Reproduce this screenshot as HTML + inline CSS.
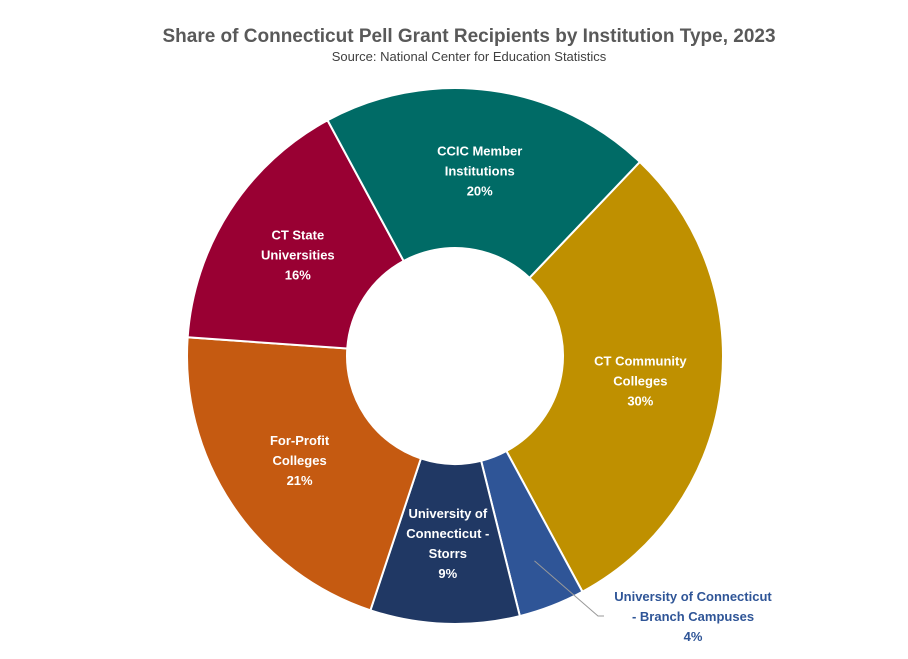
<!DOCTYPE html>
<html><head><meta charset="utf-8"><style>
body{margin:0;background:#fff;font-family:"Liberation Sans",Arial,sans-serif;}
svg{display:block}
</style></head><body>
<svg id="chart" width="908" height="659" viewBox="0 0 908 659">
<text x="469" y="42" text-anchor="middle" font-size="19" font-weight="bold" fill="#595959">Share of Connecticut Pell Grant Recipients by Institution Type, 2023</text>
<text x="469" y="61" text-anchor="middle" font-size="13" fill="#404040">Source: National Center for Education Statistics</text>
<g id="slices"></g>
<g id="labels"></g>
</svg>
<script>
const categories = [["CT Community","Colleges"],["University of Connecticut","- Branch Campuses"],["University of","Connecticut -","Storrs"],["For-Profit","Colleges"],["CT State","Universities"],["CCIC Member","Institutions"]];
const values = [30, 4, 9, 21, 16, 20];
const colors = ["#BF9000","#2F5597","#203864","#C55A11","#990033","#006B66"];
const names = ["ct-community-colleges","uconn-branch-campuses","uconn-storrs","for-profit-colleges","ct-state-universities","ccic-member-institutions"];
const cx=455, cy=356, R=268, r=108, startDeg=43.6;
const NS="http://www.w3.org/2000/svg";
const total=values.reduce((a,b)=>a+b,0);
function pt(deg,rad){const a=deg*Math.PI/180;return [cx+rad*Math.sin(a), cy-rad*Math.cos(a)];}
const gS=document.getElementById('slices'), gL=document.getElementById('labels');
let ang=startDeg;
values.forEach((v,i)=>{
  const sweep=v/total*360, a0=ang, a1=ang+sweep; ang=a1;
  const [x0,y0]=pt(a0,R),[x1,y1]=pt(a1,R),[x2,y2]=pt(a1,r),[x3,y3]=pt(a0,r);
  const lg=sweep>180?1:0;
  const p=document.createElementNS(NS,'path');
  p.setAttribute('d',`M${x0},${y0}A${R},${R} 0 ${lg} 1 ${x1},${y1}L${x2},${y2}A${r},${r} 0 ${lg} 0 ${x3},${y3}Z`);
  p.setAttribute('fill',colors[i]);p.setAttribute('stroke','#fff');p.setAttribute('stroke-width','2');
  
  
  gS.appendChild(p);
  const mid=(a0+a1)/2;
  let lx,ly,fill='#fff';
  const lines=categories[i].concat([v+'%']);
  if(i===1){
    const [ax,ay]=pt(mid,R*0.82);
    lx=693; ly=616;
    const l=document.createElementNS(NS,'polyline');
    l.setAttribute('points',`${ax},${ay} 598,616 604,616`);
    l.setAttribute('fill','none');l.setAttribute('stroke','#999');l.setAttribute('stroke-width','1');
    
    
    gL.appendChild(l);
    fill='#2F5597';
  } else {
    [lx,ly]=pt(mid,187);
  }
  const t=document.createElementNS(NS,'text');
  t.setAttribute('text-anchor','middle');t.setAttribute('font-size','13');t.setAttribute('font-weight','bold');t.setAttribute('fill',fill);
  
  
  const lh=20, top=ly-(lines.length-1)*lh/2+5;
  lines.forEach((s,j)=>{const ts=document.createElementNS(NS,'tspan');ts.setAttribute('x',lx);ts.setAttribute('y',top+j*lh);ts.textContent=s;t.appendChild(ts);});
  gL.appendChild(t);
});
</script>
</body></html>
